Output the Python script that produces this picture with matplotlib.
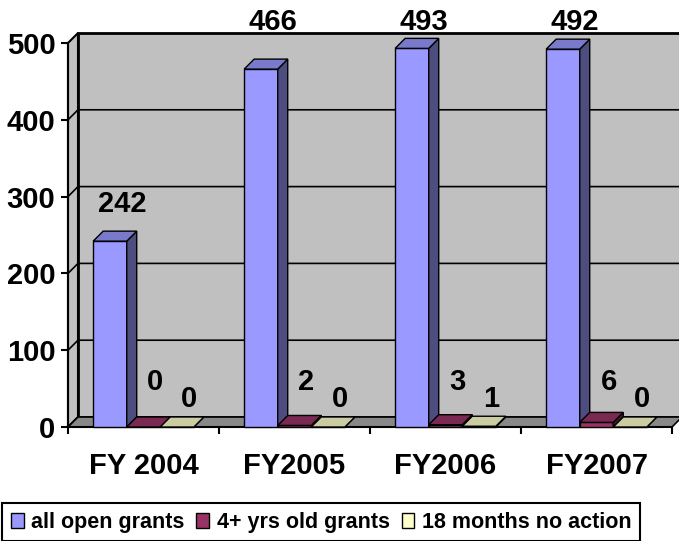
import matplotlib
matplotlib.use('Agg')
import matplotlib.pyplot as plt
from matplotlib.patches import Polygon, Rectangle

categories = ['FY 2004', 'FY2005', 'FY2006', 'FY2007']
series_names = ['all open grants', '4+ yrs old grants', '18 months no action']
all_open = [242, 466, 493, 492]
old_grants = [0, 2, 3, 6]
no_action = [0, 0, 1, 0]
series = [all_open, old_grants, no_action]

front_cols = ['#9999FF', '#993366', '#FFFFCC']
side_cols = ['#4D4D80', '#4D1A33', '#808066']
top_cols = ['#7A7ACC', '#7A2952', '#CCCCA3']
lab_min = [0, 58, 37]   # excel puts small value labels a bit above the floor

plt.rcParams['font.family'] = ['Liberation Sans', 'DejaVu Sans']
plt.rcParams['font.weight'] = 'bold'

W, H = 679, 541
fig = plt.figure(figsize=(W / 100, H / 100), dpi=100)
ax = fig.add_axes([68 / W, 1 - 427 / H, 604 / W, 384 / H])
ncat = len(categories)
ymax = 500
ax.set_xlim(0, ncat)
ax.set_ylim(0, ymax)
ax.patch.set_visible(False)

# depth of the fake 3d box, 10 px each way
ddx = 10 / 151
ddy = 10 * ymax / 384

ax.add_patch(Rectangle((ddx, ddy), ncat, ymax, fc='#C0C0C0', ec='black', lw=2,
                       clip_on=False, zorder=0))
ax.add_patch(Polygon([(0, 0), (ddx, ddy), (ddx, ymax + ddy), (0, ymax)],
                     fc='#C0C0C0', ec='black', lw=1.5, clip_on=False, zorder=0))
ax.add_patch(Polygon([(0, 0), (ncat, 0), (ncat + ddx, ddy), (ddx, ddy)],
                     fc='#888888', ec='black', lw=1.2, clip_on=False, zorder=0.5))
for y in range(100, ymax, 100):
    ax.plot([0, ddx, ncat + ddx], [y, y + ddy, y + ddy], color='black', lw=1.2,
            clip_on=False, zorder=1)

w = 1 / 4.5
handles = []
for j, vals in enumerate(series):
    xs = [i + 0.75 * w + j * w for i in range(ncat)]
    bars = ax.bar(xs, vals, width=w, align='edge', color=front_cols[j],
                  edgecolor='black', lw=1, label=series_names[j])
    handles.append(bars)
    for i, (x, v) in enumerate(zip(xs, vals)):
        z = 3 + i * 3 + j
        bars[i].set_zorder(z)
        bars[i].set_clip_on(False)
        ax.add_patch(Polygon([(x + w, 0), (x + w + ddx, ddy), (x + w + ddx, v + ddy), (x + w, v)],
                             fc=side_cols[j], ec='black', lw=1, clip_on=False, zorder=z))
        ax.add_patch(Polygon([(x, v), (x + w, v), (x + w + ddx, v + ddy), (x + ddx, v + ddy)],
                             fc=top_cols[j], ec='black', lw=1, clip_on=False, zorder=z))
        ly = min(max(v * 1.2, lab_min[j]), 527)
        ax.text(x + w / 2 + 1.2 * ddx, ly, str(v), ha='center', va='center',
                fontsize=21, fontweight='bold', zorder=50)

for s in ['top', 'right']:
    ax.spines[s].set_visible(False)
for s in ['left', 'bottom']:
    ax.spines[s].set_linewidth(1.5)
    ax.spines[s].set_zorder(2)

ax.set_yticks(range(0, ymax + 1, 100))
ax.tick_params(axis='y', length=5, width=1.5, pad=4, labelsize=21)
ax.set_xticks([i + 0.5 for i in range(ncat)])
ax.set_xticklabels(categories)
ax.set_xticks(range(ncat + 1), minor=True)
ax.tick_params(axis='x', which='major', length=0, pad=18, labelsize=21)
ax.tick_params(axis='x', which='minor', length=5, width=1.5)

leg = fig.legend(handles, series_names, loc='upper left',
                 bbox_to_anchor=(2 / W, 1 - 503 / H), ncol=3, fontsize=15.5,
                 frameon=True, fancybox=False, edgecolor='black', framealpha=1,
                 handlelength=0.6, handleheight=0.7, handletextpad=0.35,
                 columnspacing=0.55, borderpad=0.4, borderaxespad=0)
leg.get_frame().set_linewidth(1.5)

fig.savefig('out.png', dpi=100)
